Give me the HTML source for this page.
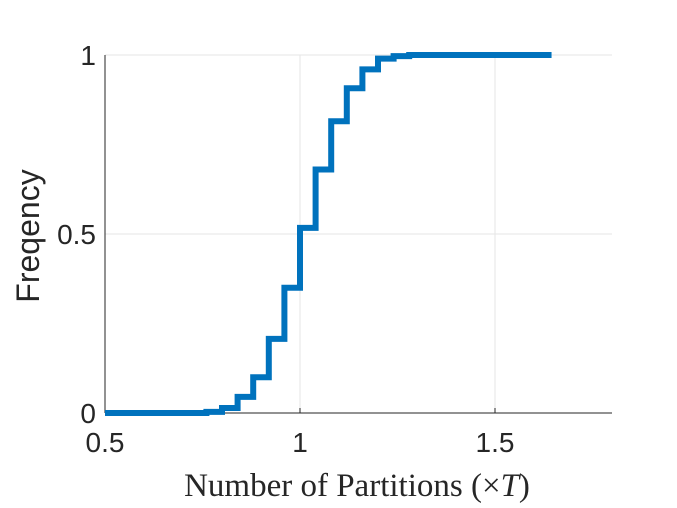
<!DOCTYPE html>
<html><head><meta charset="utf-8">
<style>
html,body{margin:0;padding:0;background:#fff;}
svg{display:block;}
.tick{font-family:"Liberation Sans",sans-serif;font-size:28px;fill:#262626;}
</style></head>
<body>
<svg id="chart" width="677" height="508" viewBox="0 0 677 508" xmlns="http://www.w3.org/2000/svg">
<g id="grid"></g>
<g id="axes"></g>
<path id="series" fill="none" stroke="#0072BD" stroke-width="6" stroke-linejoin="miter"/>
<text x="357" y="496" text-anchor="middle" font-family="'Liberation Serif',serif" font-size="33" fill="#262626">Number of Partitions (×<tspan font-style="italic">T</tspan>)</text>
<text transform="translate(39,236) rotate(-90)" text-anchor="middle" font-family="'Liberation Sans',sans-serif" font-size="32" fill="#262626">Freqency</text>
</svg>
<script>
const stepX = [0.5, 0.76, 0.80, 0.84, 0.88, 0.92, 0.96, 1.00, 1.04, 1.08, 1.12, 1.16, 1.20, 1.24, 1.28, 1.32, 1.645];
const stepY = [0.0, 0.003, 0.014, 0.045, 0.10, 0.207, 0.35, 0.517, 0.68, 0.815, 0.907, 0.96, 0.99, 0.997, 1.0, 1.0, 1.0];
const xTicks = [0.5, 1, 1.5];
const xTickLabels = ["0.5", "1", "1.5"];
const yTicks = [0, 0.5, 1];
const yTickLabels = ["0", "0.5", "1"];

const X0=105, X1=612, Y0=413, Y1=55;
const xMin=0.5, xMax=1.8, yMin=0, yMax=1;
const sx = v => X0 + (v - xMin) / (xMax - xMin) * (X1 - X0);
const sy = v => Y0 - (v - yMin) / (yMax - yMin) * (Y0 - Y1);
const NS="http://www.w3.org/2000/svg";
const grid=document.getElementById('grid'), axes=document.getElementById('axes');
function mk(tag, attrs, parent){const e=document.createElementNS(NS,tag);for(const k in attrs)e.setAttribute(k,attrs[k]);parent.appendChild(e);return e;}

xTicks.forEach((t,i)=>{
  const g=mk('line',{x1:sx(t),x2:sx(t),y1:Y0,y2:Y1,stroke:'#e6e6e6','stroke-width':1},grid);
  
  
  const tk=mk('line',{x1:sx(t),x2:sx(t),y1:Y0,y2:Y0-5,stroke:'#262626','stroke-width':1},axes);
  
  
  const lb=mk('text',{x:sx(t),y:Y0+39,'text-anchor':'middle',class:'tick'},axes);
  lb.textContent=xTickLabels[i];
  
  
});
yTicks.forEach((t,i)=>{
  const g=mk('line',{x1:X0,x2:X1,y1:sy(t),y2:sy(t),stroke:'#e6e6e6','stroke-width':1},grid);
  
  
  const lb=mk('text',{x:X0-9,y:sy(t)+10,'text-anchor':'end',class:'tick'},axes);
  lb.textContent=yTickLabels[i];
  
  
});
const xa=mk('line',{x1:X0,x2:X1,y1:Y0,y2:Y0,stroke:'#262626','stroke-width':1},axes);


const ya=mk('line',{x1:X0,x2:X0,y1:Y0,y2:Y1,stroke:'#262626','stroke-width':1},axes);



let d='M'+sx(stepX[0])+','+sy(stepY[0]);
for(let i=1;i<stepX.length;i++){
  d+=' H'+sx(stepX[i])+' V'+sy(stepY[i]);
}
document.getElementById('series').setAttribute('d',d);
</script>
</body></html>
